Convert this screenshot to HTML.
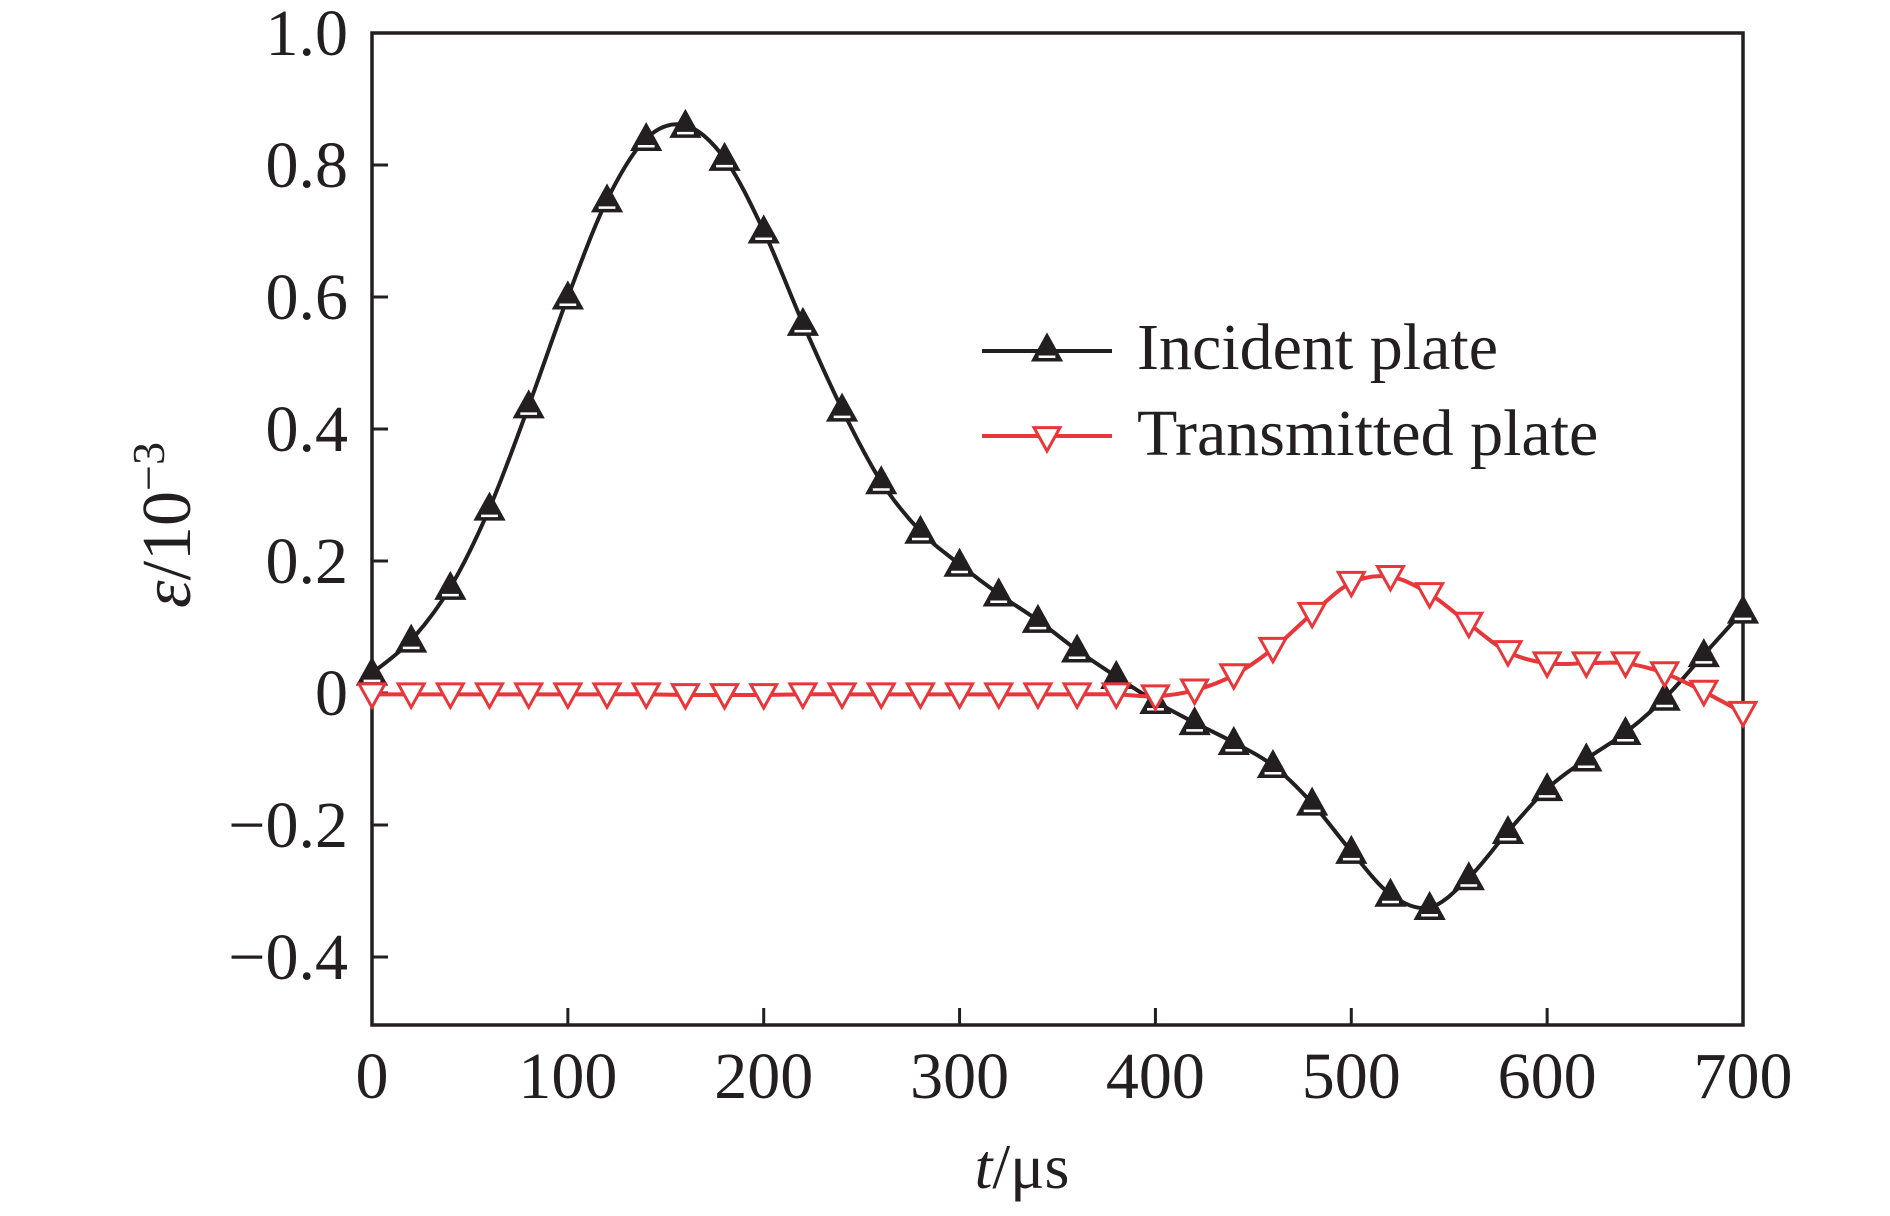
<!DOCTYPE html>
<html><head><meta charset="utf-8"><style>
body{margin:0;background:#fff}
svg text{font-family:"Liberation Serif",serif;fill:#231f20}
</style></head><body>
<svg id="chart" width="1890" height="1211" viewBox="0 0 1890 1211" xmlns="http://www.w3.org/2000/svg">
<g id="plot"></g>
</svg>
<script>
const times = [0,20,40,60,80,100,120,140,160,180,200,220,240,260,280,300,320,340,360,380,400,420,440,460,480,500,520,540,560,580,600,620,640,660,680,700];
const incident = [0.03,0.08,0.16,0.28,0.435,0.60,0.747,0.84,0.86,0.81,0.70,0.56,0.43,0.32,0.245,0.195,0.15,0.11,0.065,0.025,-0.013,-0.045,-0.075,-0.11,-0.167,-0.24,-0.305,-0.325,-0.28,-0.21,-0.145,-0.10,-0.06,-0.008,0.058,0.124];
const transmitted = [-0.002,-0.002,-0.002,-0.002,-0.002,-0.002,-0.002,-0.002,-0.003,-0.003,-0.003,-0.002,-0.002,-0.002,-0.002,-0.002,-0.002,-0.002,-0.002,-0.002,-0.005,0.004,0.027,0.067,0.12,0.167,0.176,0.15,0.105,0.062,0.045,0.045,0.045,0.03,0.002,-0.03];
const xTicks = [0,100,200,300,400,500,600,700];
const yTicks = [1.0,0.8,0.6,0.4,0.2,0,-0.2,-0.4];
const yTickLabels = ["1.0","0.8","0.6","0.4","0.2","0","\u22120.2","\u22120.4"];

const X0=372,X1=1743,Y_TOP=33,Y_BOT=1025;
const xs=v=>X0+(v-0)/700*(X1-X0);
const ys=v=>693-(v)*660;
const NS="http://www.w3.org/2000/svg";
const g=document.getElementById('plot');
function mk(t,a,p){const e=document.createElementNS(NS,t);for(const k in a)e.setAttribute(k,a[k]);(p||g).appendChild(e);return e;}
const dark="#231f20", red="#e8373a";

const frame=mk('rect',{x:X0,y:Y_TOP,width:X1-X0,height:Y_BOT-Y_TOP,fill:'none',stroke:dark,'stroke-width':3.5});



xTicks.forEach(v=>{
  const t=mk('line',{x1:xs(v),x2:xs(v),y1:Y_BOT,y2:Y_BOT-17,stroke:dark,'stroke-width':3});
  
  
  const l=mk('text',{x:xs(v),y:1098,'font-size':66,'text-anchor':'middle'});l.textContent=v;
  
  
});
yTicks.forEach((v,i)=>{
  const t=mk('line',{x1:X0,x2:X0+16,y1:ys(v),y2:ys(v),stroke:dark,'stroke-width':3});
  
  
  const l=mk('text',{x:348,y:ys(v)+22,'font-size':66,'text-anchor':'end'});l.textContent=yTickLabels[i];
  
  
});

function smooth(pts){
  let d=`M${pts[0][0]},${pts[0][1]}`;
  for(let i=0;i<pts.length-1;i++){
    const p0=pts[Math.max(0,i-1)],p1=pts[i],p2=pts[i+1],p3=pts[Math.min(pts.length-1,i+2)];
    d+=` C${p1[0]+(p2[0]-p0[0])/6},${p1[1]+(p2[1]-p0[1])/6} ${p2[0]-(p3[0]-p1[0])/6},${p2[1]-(p3[1]-p1[1])/6} ${p2[0]},${p2[1]}`;
  }
  return d;
}
function upTri(cx,cy,par){
  const s=14;
  const m=mk('path',{d:`M${cx},${cy-s} L${cx+s},${cy+s*0.8} L${cx-s},${cy+s*0.8}Z`,fill:dark,stroke:dark,'stroke-width':2.5},par);
  mk('line',{x1:cx-s*0.6,x2:cx+s*0.6,y1:cy+s*0.55,y2:cy+s*0.55,stroke:'#fff','stroke-width':2.5},par);
  return m;
}
function downTri(cx,cy,par){
  const s=13;
  return mk('path',{d:`M${cx-s},${cy-s*0.8} L${cx+s},${cy-s*0.8} L${cx},${cy+s}Z`,fill:'#fff',stroke:red,'stroke-width':3},par);
}

const sInc=mk('g',{});


mk('path',{d:smooth(times.map((t,i)=>[xs(t),ys(incident[i])])),fill:'none',stroke:dark,'stroke-width':4},sInc);
times.forEach((t,i)=>{
  const m=upTri(xs(t),ys(incident[i]),sInc);
  
  
});

const sTr=mk('g',{});


mk('path',{d:smooth(times.map((t,i)=>[xs(t),ys(transmitted[i])])),fill:'none',stroke:red,'stroke-width':4},sTr);
times.forEach((t,i)=>{
  const m=downTri(xs(t),ys(transmitted[i]),sTr);
  
  
});

const lg=mk('g',{});


mk('line',{x1:982,x2:1112,y1:351,y2:351,stroke:dark,'stroke-width':4},lg);
upTri(1047,349,lg);
const t1=mk('text',{x:1137,y:369,'font-size':66},lg);t1.textContent='Incident plate';


mk('line',{x1:982,x2:1112,y1:436,y2:436,stroke:red,'stroke-width':4},lg);
downTri(1047,438,lg);
const t2=mk('text',{x:1137,y:455,'font-size':66},lg);t2.textContent='Transmitted plate';



const xt=mk('text',{x:1022,y:1188,'font-size':64,'text-anchor':'middle'});
xt.innerHTML='<tspan font-style="italic">t</tspan>/μs';


const yt=mk('text',{x:0,y:0,'font-size':70,'text-anchor':'middle',transform:'translate(190,525) rotate(-90)'});
yt.innerHTML='<tspan font-style="italic">ε</tspan>/10<tspan dy="-26" font-size="46">−3</tspan>';


</script>
</body></html>
